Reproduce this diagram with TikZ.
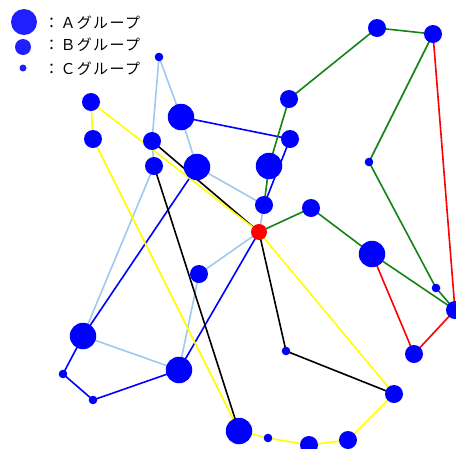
\documentclass[tikz,border=0pt]{standalone}
\usepackage{fontspec}
\newfontfamily\jpfont[LetterSpace=9]{Noto Sans CJK JP}
\usetikzlibrary{backgrounds}
\definecolor{nodeblue}{RGB}{0,0,255}
\definecolor{legblue}{RGB}{32,32,255}
\definecolor{lb}{RGB}{160,200,240}
\definecolor{gr}{RGB}{20,130,20}
\definecolor{yl}{RGB}{255,255,0}
\definecolor{rd}{RGB}{255,0,0}
\tikzset{
  grpA/.style={circle,fill=nodeblue,draw=none,minimum size=26.5pt,inner sep=0pt},
  grpB/.style={circle,fill=nodeblue,draw=none,minimum size=18pt,inner sep=0pt},
  grpC/.style={circle,fill=nodeblue,draw=none,minimum size=8.6pt,inner sep=0pt},
  hub/.style={circle,fill=rd,draw=none,minimum size=16pt,inner sep=0pt},
  legA/.style={circle,fill=legblue,minimum size=26pt,inner sep=0pt},
  legB/.style={circle,fill=legblue,minimum size=16pt,inner sep=0pt},
  legC/.style={circle,fill=legblue,minimum size=7pt,inner sep=0pt},
  legtext/.style={anchor=west,inner sep=0pt,font=\jpfont\fontsize{15}{15}\selectfont},
  edge/.style={line width=1.6pt}
}
\begin{document}
\begin{tikzpicture}[x=1pt,y=-1pt]
\useasboundingbox (0,0) rectangle (456,448);
% legend
\node[legA] (la) at (24,22) {};
\node[legB] (lbn) at (23,47) {};
\node[legC] (lc) at (23,68) {};
\node[legtext] (ta) at (44,23) {：Ａグループ};
\node[legtext] (tb) at (44,45) {：Ｂグループ};
\node[legtext] (tc) at (44,69) {：Ｃグループ};
% nodes
\node[grpC] (n1) at (159,57) {};
\node[grpB] (n2) at (91,102) {};
\node[grpB] (n3) at (93,139) {};
\node[grpA] (n4) at (181,117) {};
\node[grpB] (n5) at (152,141) {};
\node[grpB] (n6) at (154,166) {};
\node[grpA] (n7) at (197,167) {};
\node[grpB] (n8) at (289,99) {};
\node[grpB] (n9) at (290,139) {};
\node[grpA] (n10) at (269,166) {};
\node[grpB] (n11) at (264,205) {};
\node[hub] (red) at (259,232) {};
\node[grpB] (n13) at (311,208) {};
\node[grpB] (n14) at (377,28) {};
\node[grpB] (n15) at (433,34) {};
\node[grpC] (n16) at (369,162) {};
\node[grpA] (n17) at (372,254) {};
\node[grpC] (n18) at (436,288) {};
\node[grpB] (n19) at (455,310) {};
\node[grpB] (n20) at (414,354) {};
\node[grpC] (n21) at (286,351) {};
\node[grpB] (n22) at (394,394) {};
\node[grpB] (n23) at (199,274) {};
\node[grpA] (n24) at (83,336) {};
\node[grpA] (n25) at (179,370) {};
\node[grpC] (n26) at (63,374) {};
\node[grpC] (n27) at (93,400) {};
\node[grpA] (n28) at (239,431) {};
\node[grpC] (n29) at (268,438) {};
\node[grpB] (n30) at (309,445) {};
\node[grpB] (n31) at (348,440) {};
% edges
\begin{scope}[on background layer]
\draw[edge,lb] (n1.center) -- (n4.center);
\draw[edge,lb] (n1.center) -- (n5.center);
\draw[edge,lb] (n4.center) -- (n7.center);
\draw[edge,lb] (n5.center) -- (n6.center);
\draw[edge,lb] (n6.center) -- (n24.center);
\draw[edge,lb] (n7.center) -- (n11.center);
\draw[edge,lb] (n11.center) -- (red.center);
\draw[edge,lb] (red.center) -- (n23.center);
\draw[edge,lb] (n23.center) -- (n25.center);
\draw[edge,lb] (n24.center) -- (n25.center);
\draw[edge,nodeblue] (n4.center) -- (n9.center);
\draw[edge,nodeblue] (n9.center) -- (n11.center);
\draw[edge,nodeblue] (n7.center) -- (n24.center);
\draw[edge,nodeblue] (n24.center) -- (n26.center);
\draw[edge,nodeblue] (n26.center) -- (n27.center);
\draw[edge,nodeblue] (n27.center) -- (n25.center);
\draw[edge,nodeblue] (n25.center) -- (red.center);
\draw[edge,black] (n5.center) -- (red.center);
\draw[edge,black] (n6.center) -- (n28.center);
\draw[edge,black] (red.center) -- (n21.center);
\draw[edge,black] (n21.center) -- (n22.center);
\draw[edge,yl] (n2.center) -- (n3.center);
\draw[edge,yl] (n2.center) -- (red.center);
\draw[edge,yl] (n3.center) -- (n28.center);
\draw[edge,yl] (red.center) -- (n22.center);
\draw[edge,yl] (n22.center) -- (n31.center);
\draw[edge,yl] (n31.center) -- (n30.center);
\draw[edge,yl] (n30.center) -- (n29.center);
\draw[edge,yl] (n29.center) -- (n28.center);
\draw[edge,gr] (n8.center) -- (n10.center);
\draw[edge,gr] (n10.center) -- (n11.center);
\draw[edge,gr] (red.center) -- (n13.center);
\draw[edge,gr] (n13.center) -- (n17.center);
\draw[edge,gr] (n17.center) -- (n19.center);
\draw[edge,gr] (n8.center) -- (n14.center);
\draw[edge,gr] (n14.center) -- (n15.center);
\draw[edge,gr] (n15.center) -- (n16.center);
\draw[edge,gr] (n16.center) -- (n18.center);
\draw[edge,gr] (n18.center) -- (n19.center);
\draw[edge,rd] (n15.center) -- (n19.center);
\draw[edge,rd] (n17.center) -- (n20.center);
\draw[edge,rd] (n20.center) -- (n19.center);
\end{scope}
\end{tikzpicture}
\end{document}
